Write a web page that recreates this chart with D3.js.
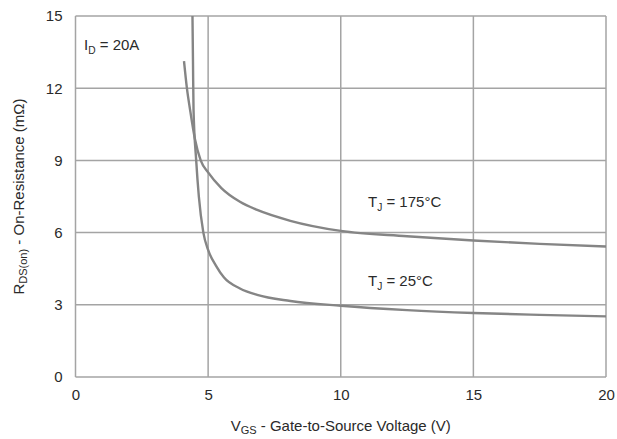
<!DOCTYPE html>
<html>
<head>
<meta charset="utf-8">
<script src="https://cdn.jsdelivr.net/npm/d3@7"></script>
<style>
  body { margin: 0; background: #fff; }
  text { font-family: "Liberation Sans", Arial, sans-serif; fill: #2a2a2a; }
</style>
</head>
<body>
<div id="chart"></div>
<script>
// values: [VGS (V), RDS(on) (mOhm)]
var tj175 = [[4.09, 13.13], [4.2, 12.0], [4.32, 11.1], [4.5, 9.9], [4.72, 9.0], [5, 8.5],
  [5.5, 7.85], [6.2, 7.28], [6.85, 6.94], [8.1, 6.49], [10, 6.07], [12.5, 5.85],
  [15, 5.67], [17.5, 5.53], [20, 5.42]];
var tj25 = [[4.41, 15], [4.43, 13], [4.45, 11.1], [4.55, 9], [4.65, 7.5], [4.82, 6],
  [5, 5.28], [5.3, 4.62], [5.6, 4.13], [6.2, 3.68], [6.85, 3.41], [8.1, 3.16],
  [10, 2.96], [12.5, 2.78], [15, 2.66], [17.5, 2.58], [20, 2.52]];
var xTicks = [0, 5, 10, 15, 20];
var yTicks = [0, 3, 6, 9, 12, 15];

var width = 617, height = 439;
var margin = {top: 16, right: 11, bottom: 62, left: 75.5};
var w = width - margin.left - margin.right;
var h = height - margin.top - margin.bottom;

var svg = d3.select("#chart").append("svg")
  .attr("width", width)
  .attr("height", height);
var g = svg.append("g")
  .attr("transform", "translate(" + margin.left + "," + margin.top + ")");

var x = d3.scaleLinear().domain([0, 20]).range([0, w]);
var y = d3.scaleLinear().domain([0, 15]).range([h, 0]);

// grid
g.append("g").selectAll("line").data(xTicks).enter().append("line")
  .attr("x1", function(d) { return x(d); }).attr("x2", function(d) { return x(d); })
  .attr("y1", 0).attr("y2", h)
  .attr("stroke", "#a4a4a4").attr("stroke-width", 1.5);
g.append("g").selectAll("line").data(yTicks).enter().append("line")
  .attr("y1", function(d) { return y(d); }).attr("y2", function(d) { return y(d); })
  .attr("x1", 0).attr("x2", w)
  .attr("stroke", "#a4a4a4").attr("stroke-width", 1.5);

// axes (labels only)
var xAxis = g.append("g").attr("transform", "translate(0," + h + ")")
  .call(d3.axisBottom(x).tickValues(xTicks).tickSize(0).tickPadding(12));
var yAxis = g.append("g")
  .call(d3.axisLeft(y).tickValues(yTicks).tickSize(0).tickPadding(13));
[xAxis, yAxis].forEach(function(a) {
  a.select(".domain").remove();
  a.selectAll("text").attr("font-size", 15).attr("fill", "#2a2a2a")
    .attr("font-family", "Liberation Sans, Arial, sans-serif");
});

// curves
var line = d3.line()
  .x(function(d) { return x(d[0]); })
  .y(function(d) { return y(d[1]); })
  .curve(d3.curveMonotoneX);
[tj175, tj25].forEach(function(s) {
  g.append("path").datum(s)
    .attr("d", line)
    .attr("fill", "none")
    .attr("stroke", "#858585")
    .attr("stroke-width", 2.4);
});

// annotations
function label(px, py, main, sub, rest, size) {
  var t = svg.append("text").attr("x", px).attr("y", py).attr("font-size", size);
  t.append("tspan").text(main);
  t.append("tspan").attr("dy", 4).attr("font-size", size * 0.68).text(sub);
  t.append("tspan").attr("dy", -4).text(rest);
  return t;
}
label(84, 50, "I", "D", " = 20A", 15);
label(368, 207, "T", "J", " = 175°C", 15);
label(368, 286, "T", "J", " = 25°C", 15);

// axis titles
var xt = svg.append("text").attr("x", margin.left + w / 2).attr("y", 431)
  .attr("text-anchor", "middle").attr("font-size", 15);
xt.append("tspan").text("V");
xt.append("tspan").attr("dy", 3).attr("font-size", 11).text("GS");
xt.append("tspan").attr("dy", -3).text(" - Gate-to-Source Voltage (V)");

var yt = svg.append("text")
  .attr("transform", "translate(24," + (margin.top + h / 2) + ") rotate(-90)")
  .attr("text-anchor", "middle").attr("font-size", 15);
yt.append("tspan").text("R");
yt.append("tspan").attr("dy", 3).attr("font-size", 11).text("DS(on)");
yt.append("tspan").attr("dy", -3).text(" - On-Resistance (mΩ)");
</script>
</body>
</html>
